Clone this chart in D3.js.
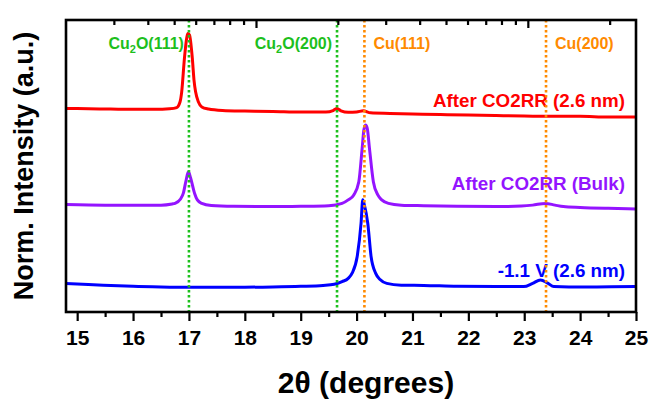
<!DOCTYPE html>
<html>
<head>
<meta charset="utf-8">
<script src="https://cdn.jsdelivr.net/npm/d3@7"></script>
<style>
  body { margin: 0; background: #fff; }
  text { font-family: Arial, 'Liberation Sans', sans-serif; font-weight: bold; }
</style>
</head>
<body>
<svg id="chart" width="651" height="399"></svg>
<script>
// 2theta (degrees) vs normalised intensity
const redX = [14.8, 15.2, 15.6, 16.0, 16.4, 16.65, 16.78, 16.84, 16.87, 16.92, 16.96, 16.98, 17.01, 17.06, 17.09, 17.12, 17.17, 17.23, 17.35, 17.6, 18.0, 18.5, 19.0, 19.45, 19.58, 19.65, 19.72, 19.85, 20.0, 20.12, 20.25, 20.6, 21.0, 21.5, 22.0, 22.5, 23.0, 23.5, 24.0, 24.5, 25.0]
const redY = [0.697, 0.696, 0.695, 0.694, 0.694, 0.696, 0.700, 0.719, 0.753, 0.870, 0.938, 0.954, 0.949, 0.870, 0.795, 0.753, 0.719, 0.702, 0.695, 0.690, 0.688, 0.687, 0.685, 0.685, 0.690, 0.697, 0.689, 0.684, 0.685, 0.689, 0.682, 0.680, 0.678, 0.676, 0.675, 0.673, 0.671, 0.670, 0.670, 0.668, 0.668]

const purpleX = [14.8, 15.5, 16.0, 16.5, 16.7, 16.75, 16.85, 16.9, 16.95, 16.99, 17.03, 17.1, 17.15, 17.23, 17.4, 17.8, 18.5, 19.0, 19.5, 19.74, 19.85, 19.95, 20.04, 20.1, 20.13, 20.16, 20.19, 20.23, 20.3, 20.38, 20.45, 20.57, 20.8, 21.2, 21.8, 22.5, 22.95, 23.15, 23.38, 23.55, 23.7, 24.0, 24.5, 25.0]
const purpleY = [0.368, 0.366, 0.366, 0.366, 0.370, 0.372, 0.387, 0.407, 0.452, 0.480, 0.459, 0.407, 0.384, 0.372, 0.365, 0.362, 0.361, 0.362, 0.364, 0.372, 0.384, 0.401, 0.446, 0.561, 0.623, 0.640, 0.630, 0.561, 0.446, 0.401, 0.384, 0.372, 0.366, 0.364, 0.362, 0.361, 0.363, 0.366, 0.372, 0.366, 0.361, 0.358, 0.355, 0.353]

const blueX = [14.8, 15.2, 15.6, 16.0, 16.5, 17.0, 17.5, 18.0, 18.5, 19.0, 19.4, 19.6, 19.74, 19.85, 19.92, 20.01, 20.08, 20.11, 20.14, 20.2, 20.26, 20.34, 20.42, 20.54, 20.8, 21.2, 21.8, 22.5, 22.99, 23.15, 23.29, 23.42, 23.53, 23.8, 24.3, 25.0]
const blueY = [0.098, 0.094, 0.091, 0.088, 0.086, 0.085, 0.085, 0.085, 0.086, 0.088, 0.091, 0.095, 0.104, 0.115, 0.133, 0.189, 0.304, 0.384, 0.366, 0.304, 0.189, 0.133, 0.111, 0.098, 0.092, 0.091, 0.088, 0.087, 0.087, 0.098, 0.110, 0.099, 0.087, 0.086, 0.086, 0.087]

const seriesNames = ['After CO2RR (2.6 nm)', 'After CO2RR (Bulk)', '-1.1 V (2.6 nm)']
const seriesColors = ['#ff0000', '#9414ff', '#0000ff']

// reference peak positions
const refPos = [17.0, 19.65, 20.14, 23.39]
const refPhase = ['Cu2O', 'Cu2O', 'Cu', 'Cu']
const refPlane = ['(111)', '(200)', '(111)', '(200)']

const xTicks = d3.range(15, 25.5, 1)
const xMinor = d3.range(15.5, 25, 1)
// unlabelled log axis on top
const topMajor = [1, 10]
const topMinor = [0.3, 0.4, 0.5, 0.6, 0.7, 0.8, 0.9, 2, 3, 4, 5, 6, 7, 8, 9, 20]

const svg = d3.select('#chart')
const m = { left: 66, top: 20, right: 636, bottom: 312 }

const x = d3.scaleLinear().domain([14.8, 25]).range([m.left, m.right])
const y = d3.scaleLinear().domain([0, 1]).range([m.bottom, m.top])
const xTop = d3.scaleLog().domain([0.2, 25]).range([m.left, m.right])

const series = [
  { xs: redX, ys: redY },
  { xs: purpleX, ys: purpleY },
  { xs: blueX, ys: blueY },
].map((s, i) => ({
  name: seriesNames[i],
  color: seriesColors[i],
  points: s.xs.map((v, j) => [v, s.ys[j]]),
}))

const line = d3.line()
  .x((d) => x(d[0]))
  .y((d) => y(d[1]))
  .curve(d3.curveMonotoneX)

svg.append('g').attr('class', 'curves')
  .selectAll('path')
  .data(series).enter()
  .append('path')
  .attr('d', (d) => line(d.points))
  .attr('fill', 'none')
  .attr('stroke', (d) => d.color)
  .attr('stroke-width', 3)
  .attr('stroke-linejoin', 'round')

// series labels, right aligned
const labelY = [106.7, 190, 276.7]
svg.append('g').attr('class', 'series-labels')
  .selectAll('text')
  .data(series).enter()
  .append('text')
  .attr('x', 625)
  .attr('y', (d, i) => labelY[i])
  .attr('text-anchor', 'end')
  .attr('font-size', 18.8)
  .attr('fill', (d) => d.color)
  .text((d) => d.name)

// dotted reference lines + labels
const refs = refPos.map((p, i) => ({ pos: p, phase: refPhase[i], plane: refPlane[i] }))
const refColor = (d) => d.phase === 'Cu' ? '#ff8a00' : '#1dbf1d'

svg.append('g').attr('class', 'ref-lines')
  .selectAll('line')
  .data(refs).enter()
  .append('line')
  .attr('x1', (d) => x(d.pos))
  .attr('x2', (d) => x(d.pos))
  .attr('y1', m.top)
  .attr('y2', m.bottom)
  .attr('stroke', refColor)
  .attr('stroke-width', 2.6)
  .attr('stroke-dasharray', '2.4,2.6')

const refLabels = svg.append('g').attr('class', 'ref-labels')
  .selectAll('text')
  .data(refs).enter()
  .append('text')
  .attr('x', (d) => d.phase === 'Cu' ? x(d.pos) + 9 : x(d.pos) - 5)
  .attr('y', 49)
  .attr('text-anchor', (d) => d.phase === 'Cu' ? 'start' : 'end')
  .attr('font-size', 16)
  .attr('fill', refColor)
refLabels.each(function (d) {
  const t = d3.select(this)
  if (d.phase === 'Cu2O') {
    t.append('tspan').text('Cu')
    t.append('tspan').attr('font-size', 11).attr('dy', 4).text('2')
    t.append('tspan').attr('dy', -4).text('O' + d.plane)
  } else {
    t.text(d.phase + d.plane)
  }
})

// axes
const bottom = svg.append('g')
  .attr('transform', `translate(0,${m.bottom})`)
  .call(d3.axisBottom(x).tickValues(xTicks).tickSize(9).tickPadding(4).tickFormat(d3.format('d')))
bottom.selectAll('text').attr('font-size', 21).attr('fill', '#000').attr('dy', '0.95em')
svg.append('g')
  .attr('transform', `translate(0,${m.bottom})`)
  .call(d3.axisBottom(x).tickValues(xMinor).tickSize(5).tickFormat(''))

svg.append('g')
  .attr('transform', `translate(0,${m.top})`)
  .call(d3.axisTop(xTop).tickValues(topMajor).tickSize(-8).tickFormat(''))
svg.append('g')
  .attr('transform', `translate(0,${m.top})`)
  .call(d3.axisTop(xTop).tickValues(topMinor).tickSize(-5).tickFormat(''))

svg.selectAll('.domain').remove()
svg.selectAll('.tick line').attr('stroke', '#000').attr('stroke-width', 2.2)

// frame
svg.append('rect')
  .attr('x', m.left)
  .attr('y', m.top)
  .attr('width', m.right - m.left)
  .attr('height', m.bottom - m.top)
  .attr('fill', 'none')
  .attr('stroke', '#000')
  .attr('stroke-width', 2.6)

// axis titles
svg.append('text')
  .attr('x', 366)
  .attr('y', 393)
  .attr('text-anchor', 'middle')
  .attr('font-size', 30)
  .attr('fill', '#000')
  .text('2θ (degrees)')

svg.append('text')
  .attr('transform', `translate(33,${(m.top + m.bottom) / 2}) rotate(-90)`)
  .attr('text-anchor', 'middle')
  .attr('font-size', 27)
  .attr('fill', '#000')
  .text('Norm. Intensity (a.u.)')
</script>
</body>
</html>
